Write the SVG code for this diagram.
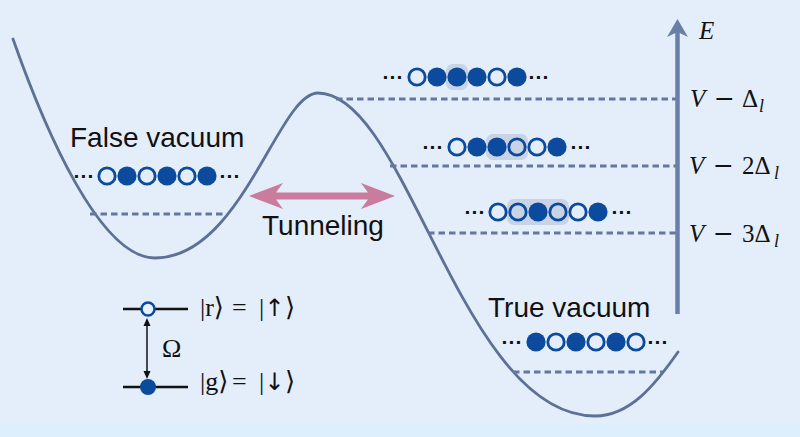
<svg xmlns="http://www.w3.org/2000/svg" width="800" height="437" viewBox="0 0 800 437">
<style>
.curve{fill:none;stroke:#5d7095;stroke-width:2.8;stroke-linecap:round}
.dash{fill:none;stroke:#64789f;stroke-width:3;stroke-dasharray:6.5 4}
.f{fill:#0b4a9c}
.o{fill:none;stroke:#0b4a9c;stroke-width:2.8}
.hl{fill:#c8d3e6}
.dots{font-family:"Liberation Sans",Arial,sans-serif;font-size:21px;font-weight:bold;fill:#111;text-anchor:middle}
.lbl{font-family:"Liberation Sans",Arial,sans-serif;font-size:28px;fill:#111}
.math{font-family:"Liberation Serif","DejaVu Serif",serif;font-size:25px;fill:#111}
.it{font-style:italic}
.minus{font-family:"DejaVu Serif","Liberation Serif",serif}
.ket{font-family:"Liberation Serif","DejaVu Serif",serif;font-size:26px;fill:#111}
.arr{font-family:"DejaVu Sans",sans-serif;font-size:24px}
</style>
<rect x="0" y="0" width="800" height="437" fill="#e4edfa"/>
<rect x="0" y="423" width="800" height="14" fill="#ddeffd"/>

<g id="potential">
<path class="curve" d="M13,39 C45,130 100,258 155,258 C242,258 278,93 318,93 C407,93 461,416 595,416 C630,416 655,385 678,352"/>
</g>

<g id="levels">
<line class="dash" x1="90" y1="214" x2="225" y2="214"/>
<line class="dash" x1="336" y1="99" x2="677" y2="99"/>
<line class="dash" x1="390" y1="166" x2="677" y2="166"/>
<line class="dash" x1="428" y1="233" x2="677" y2="233"/>
<line class="dash" x1="513" y1="372" x2="663" y2="372"/>
</g>

<g id="energy-axis">
<line x1="677.5" y1="314" x2="677.5" y2="30" stroke="#6a7fa8" stroke-width="4.5"/>
<polygon points="677.5,19 688,37 677.5,32 667,37" fill="#6a7fa8"/>
<text class="math it" x="699" y="39">E</text>
</g>

<g id="label-l1">
<text class="math" y="107"><tspan class="it" x="690">V</tspan><tspan class="minus" x="714">−</tspan><tspan x="742">Δ</tspan><tspan class="it" x="759" dy="5" font-size="18">l</tspan></text>
</g>
<g id="label-l2">
<text class="math" y="174"><tspan class="it" x="689">V</tspan><tspan class="minus" x="713">−</tspan><tspan x="742">2Δ</tspan><tspan class="it" x="774" dy="5" font-size="18">l</tspan></text>
</g>
<g id="label-l3">
<text class="math" y="242"><tspan class="it" x="689">V</tspan><tspan class="minus" x="713">−</tspan><tspan x="742">3Δ</tspan><tspan class="it" x="774" dy="5" font-size="18">l</tspan></text>
</g>

<g id="false-vacuum">
<text class="lbl" x="70" y="147">False vacuum</text>
<text class="dots" x="84" y="183">···</text>
<circle class="o" cx="107" cy="176" r="8.2"/>
<circle class="f" cx="127" cy="176" r="9.6"/>
<circle class="o" cx="147" cy="176" r="8.2"/>
<circle class="f" cx="167" cy="176" r="9.6"/>
<circle class="o" cx="187" cy="176" r="8.2"/>
<circle class="f" cx="207" cy="176" r="9.6"/>
<text class="dots" x="230" y="183">···</text>
</g>

<g id="chain-1">
<rect class="hl" x="446" y="64" width="22" height="26" rx="7"/>
<text class="dots" x="393" y="84">···</text>
<circle class="o" cx="417" cy="77" r="8.2"/>
<circle class="f" cx="437" cy="77" r="9.6"/>
<circle class="f" cx="457" cy="77" r="9.6"/>
<circle class="f" cx="477" cy="77" r="9.6"/>
<circle class="o" cx="497" cy="77" r="8.2"/>
<circle class="f" cx="517" cy="77" r="9.6"/>
<text class="dots" x="539" y="84">···</text>
</g>

<g id="chain-2">
<rect class="hl" x="486" y="134" width="42" height="26" rx="7"/>
<text class="dots" x="433" y="154">···</text>
<circle class="o" cx="457" cy="147" r="8.2"/>
<circle class="f" cx="477" cy="147" r="9.6"/>
<circle class="f" cx="497" cy="147" r="9.6"/>
<circle class="o" cx="517" cy="147" r="8.2"/>
<circle class="o" cx="537" cy="147" r="8.2"/>
<circle class="f" cx="557" cy="147" r="9.6"/>
<text class="dots" x="581" y="154">···</text>
</g>

<g id="chain-3">
<rect class="hl" x="507" y="199" width="62" height="26" rx="7"/>
<text class="dots" x="475" y="219">···</text>
<circle class="o" cx="498" cy="212" r="8.2"/>
<circle class="o" cx="518" cy="212" r="8.2"/>
<circle class="f" cx="538" cy="212" r="9.6"/>
<circle class="o" cx="558" cy="212" r="8.2"/>
<circle class="o" cx="578" cy="212" r="8.2"/>
<circle class="f" cx="598" cy="212" r="9.6"/>
<text class="dots" x="622" y="219">···</text>
</g>

<g id="true-vacuum">
<text class="lbl" x="488" y="317">True vacuum</text>
<text class="dots" x="512" y="349">···</text>
<circle class="f" cx="536" cy="342" r="9.6"/>
<circle class="o" cx="556" cy="342" r="8.2"/>
<circle class="f" cx="576" cy="342" r="9.6"/>
<circle class="o" cx="596" cy="342" r="8.2"/>
<circle class="f" cx="616" cy="342" r="9.6"/>
<circle class="o" cx="636" cy="342" r="8.2"/>
<text class="dots" x="658" y="349">···</text>
</g>

<g id="tunneling">
<polygon points="249,196 283,183 276,192.5 368,192.5 361,183 395,196 361,209 368,199.5 276,199.5 283,209" fill="#c97c9d"/>
<text class="lbl" x="262" y="235">Tunneling</text>
</g>

<g id="two-level">
<line x1="123" y1="309" x2="188" y2="309" stroke="#111" stroke-width="2.5"/>
<circle cx="148" cy="309" r="6.5" fill="#e8f0fb" stroke="#0b4a9c" stroke-width="2.5"/>
<line x1="123" y1="387" x2="188" y2="387" stroke="#111" stroke-width="2.5"/>
<circle cx="148" cy="387" r="8" fill="#0b4a9c"/>
<line x1="147" y1="324" x2="147" y2="373" stroke="#111" stroke-width="1.5"/>
<polygon points="147,318 150.5,326 143.5,326" fill="#111"/>
<polygon points="147,379 150.5,371 143.5,371" fill="#111"/>
<text class="ket" x="162" y="357">Ω</text>
<text class="ket" y="316"><tspan x="200">|r⟩</tspan><tspan x="232">=</tspan><tspan x="259">|</tspan><tspan class="arr" x="264.5">↑</tspan><tspan x="285">⟩</tspan></text>
<text class="ket" y="390"><tspan x="200">|g⟩</tspan><tspan x="232">=</tspan><tspan x="259">|</tspan><tspan class="arr" x="264.5">↓</tspan><tspan x="285">⟩</tspan></text>
</g>
</svg>
